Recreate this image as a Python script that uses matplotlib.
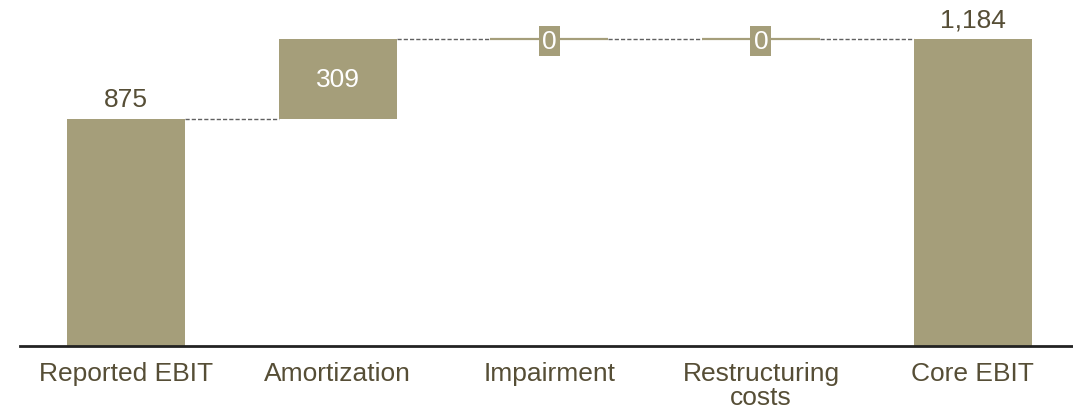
import matplotlib
matplotlib.use("Agg")
import matplotlib.pyplot as plt
import numpy as np

categories = ["Reported EBIT", "Amortization", "Impairment", "Restructuring\ncosts", "Core EBIT"]
values = [875, 309, 0, 0, 1184]
kinds = ["total", "delta", "delta", "delta", "total"]
labels = ["875", "309", "0", "0", "1,184"]

bar_color = "#A59E7A"
text_color = "#564E36"
plt.rcParams['font.family'] = ['Liberation Sans', 'DejaVu Sans']

fig = plt.figure(figsize=(10.73, 4.10), dpi=100)
ax = fig.add_axes([20/1073, 63/410, 1 - 20/1073, 347/410])

w = 0.557
x = np.arange(len(categories))
bottoms, tops = [], []
running = 0
for v, k in zip(values, kinds):
    if k == "total":
        b, t = 0, v
        running = v
    else:
        b, t = running, running + v
        running = t
    bottoms.append(b)
    tops.append(t)

for i in range(len(categories)):
    h = tops[i] - bottoms[i]
    if h > 0:
        ax.bar(x[i], h, bottom=bottoms[i], width=w, color=bar_color, linewidth=0, zorder=2)
    else:
        ax.hlines(tops[i], x[i] - w/2, x[i] + w/2, color=bar_color, lw=1.6, zorder=2)

# connectors
for i in range(len(categories) - 1):
    ax.plot([x[i] + w/2, x[i+1] - w/2], [tops[i], tops[i]], color="#606060",
            lw=1.0, dashes=(3, 1.5), zorder=1)

fs = 19
# labels
for i, (k, lab) in enumerate(zip(kinds, labels)):
    if k == "total":
        ax.annotate(lab, (x[i], tops[i]), xytext=(0, 5.5), textcoords="offset points",
                    ha="center", va="bottom", fontsize=fs, color=text_color)
    elif values[i] != 0:
        ax.text(x[i], (bottoms[i] + tops[i]) / 2, lab, ha="center", va="center",
                fontsize=fs, color="white", zorder=3)
    else:
        ax.annotate(lab, (x[i], tops[i]), xytext=(0, -1.5), textcoords="offset points",
                    ha="center", va="center", fontsize=fs, color="white", zorder=3,
                    bbox=dict(boxstyle="square,pad=0.12", fc=bar_color, ec="none"))

ax.set_xlim(-0.5, 4.474)
ax.set_ylim(0, 1338)
ax.set_xticks(x)
ax.set_xticklabels(categories, fontsize=fs, color=text_color, linespacing=1.02)
ax.tick_params(axis="x", length=0, pad=10.5)
ax.set_yticks([])
for s in ["top", "right", "left"]:
    ax.spines[s].set_visible(False)
ax.spines["bottom"].set_color("#222222")
ax.spines["bottom"].set_linewidth(2)
ax.spines["bottom"].set_zorder(4)

fig.savefig("out.png", dpi=100)
